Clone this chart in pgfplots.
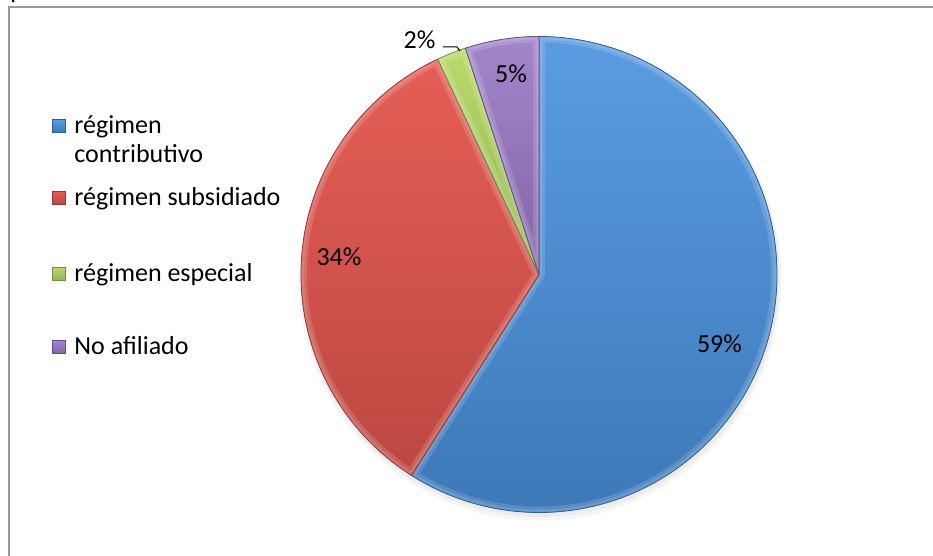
\documentclass[border=0pt]{standalone}
\usepackage{pgfplots}
\pgfplotsset{compat=1.18}
\usepackage{pgfplotstable}
\usepackage{fontspec}
\setmainfont{Carlito}

\definecolor{blueT}{HTML}{5A9CE2}
\definecolor{blueB}{HTML}{3D79B8}
\definecolor{redT}{HTML}{E55E56}
\definecolor{redB}{HTML}{BC4842}
\definecolor{greenT}{HTML}{B9DA6C}
\definecolor{greenB}{HTML}{90B24E}
\definecolor{purpT}{HTML}{A286CB}
\definecolor{purpB}{HTML}{8264A8}
\definecolor{frame}{HTML}{9A9A9A}

\pgfplotstableread{
name value
contributivo 59
subsidiado 34
especial 2
noafiliado 5
}\piedata
\pgfplotstablegetelem{0}{value}\of\piedata\edef\vA{\pgfplotsretval}
\pgfplotstablegetelem{1}{value}\of\piedata\edef\vB{\pgfplotsretval}
\pgfplotstablegetelem{2}{value}\of\piedata\edef\vC{\pgfplotsretval}
\pgfplotstablegetelem{3}{value}\of\piedata\edef\vD{\pgfplotsretval}
\pgfmathsetmacro\aA{90}
\pgfmathsetmacro\aB{\aA-3.6*\vA}
\pgfmathsetmacro\aC{\aB-3.6*\vB}
\pgfmathsetmacro\aD{\aC-3.6*\vC}
\pgfmathsetmacro\aE{\aD-3.6*\vD}

% slice with bevel-like inner highlight: #1 start, #2 end, #3 top colour, #4 bottom colour
\newcommand\pieslice[4]{%
  \fill[top color=#3, bottom color=#4]
    (axis cs:539,281.5) -- ++(#1:119pt) arc[start angle=#1, end angle=#2, radius=119pt] -- cycle;
  \begin{scope}
    \clip (axis cs:539,281.5) -- ++(#1:119pt) arc[start angle=#1, end angle=#2, radius=119pt] -- cycle;
    \draw[white, opacity=0.14, line width=6pt]
      (axis cs:539,281.5) -- ++(#1:119pt) arc[start angle=#1, end angle=#2, radius=119pt] -- cycle;
    \draw[white, opacity=0.12, line width=3pt]
      (axis cs:539,281.5) -- ++(#1:119pt) arc[start angle=#1, end angle=#2, radius=119pt] -- cycle;
  \end{scope}
  \draw[#4!80!black, line width=0.4pt]
    (axis cs:539,281.5) -- ++(#1:119pt) arc[start angle=#1, end angle=#2, radius=119pt] -- cycle;
}

\begin{document}
\begin{tikzpicture}[font=\fontsize{13}{15.6}\selectfont]
\begin{axis}[at={(0,0)}, anchor=south west,
  width=466.5pt, height=278pt, scale only axis,
  xmin=0, xmax=933, ymin=0, ymax=556,
  hide axis, clip=false]
% frame
\draw[frame, line width=1pt] (axis cs:9,0) -- (axis cs:9,549) -- (axis cs:940,549);
\node[anchor=base west, inner sep=0pt] at (axis cs:10,557) {p};
% soft shadow
\fill[black, opacity=0.035] (axis cs:540,277) circle[radius=120.8pt];
\fill[black, opacity=0.04] (axis cs:540,278.5) circle[radius=119.8pt];
% slices
\pieslice{\aA}{\aB}{blueT}{blueB}
\pieslice{\aB}{\aC}{redT}{redB}
\pieslice{\aC}{\aD}{greenT}{greenB}
\pieslice{\aD}{\aE}{purpT}{purpB}
% data labels
\node[anchor=base, inner sep=0pt] at (axis cs:719.5,203) {59\%};
\node[anchor=base, inner sep=0pt] at (axis cs:339,290) {34\%};
\node[anchor=base, inner sep=0pt] at (axis cs:419.5,507) {2\%};
\node[anchor=base, inner sep=0pt] at (axis cs:511,473) {5\%};
\draw[black, line width=0.5pt] (axis cs:443,509) -- (axis cs:457,509) -- (axis cs:460,505);
% legend
\shade[top color=blueT, bottom color=blueB, draw=blueB!80!black, line width=0.3pt] (axis cs:52,423.5) rectangle (axis cs:65,436.5);
\shade[top color=redT, bottom color=redB, draw=redB!80!black, line width=0.3pt] (axis cs:52,351.5) rectangle (axis cs:65,364.5);
\shade[top color=greenT, bottom color=greenB, draw=greenB!80!black, line width=0.3pt] (axis cs:52,275.5) rectangle (axis cs:65,288.5);
\shade[top color=purpT, bottom color=purpB, draw=purpB!80!black, line width=0.3pt] (axis cs:52,202.5) rectangle (axis cs:65,215.5);
\node[anchor=base west, inner sep=0pt] at (axis cs:74,422) {régimen};
\node[anchor=base west, inner sep=0pt] at (axis cs:74,393) {contributivo};
\node[anchor=base west, inner sep=0pt] at (axis cs:74,350) {régimen subsidiado};
\node[anchor=base west, inner sep=0pt] at (axis cs:74,274) {régimen especial};
\node[anchor=base west, inner sep=0pt] at (axis cs:74,201) {No afiliado};
\end{axis}
\pgfresetboundingbox
\path[use as bounding box] (0,0) rectangle (466.5pt,278pt);
\end{tikzpicture}
\end{document}
